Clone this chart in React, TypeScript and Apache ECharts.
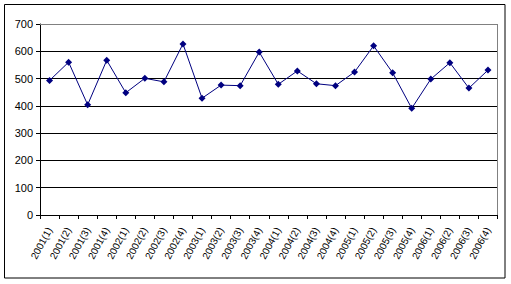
import React, { useEffect, useRef } from "react";
import * as echarts from "echarts";

const categories = [
  "2001(1)", "2001(2)", "2001(3)", "2001(4)",
  "2002(1)", "2002(2)", "2002(3)", "2002(4)",
  "2003(1)", "2003(2)", "2003(3)", "2003(4)",
  "2004(1)", "2004(2)", "2004(3)", "2004(4)",
  "2005(1)", "2005(2)", "2005(3)", "2005(4)",
  "2006(1)", "2006(2)", "2006(3)", "2006(4)",
];
const values = [
  493, 560, 404, 567, 448, 501, 488, 627, 428, 476, 474, 597,
  479, 528, 481, 474, 524, 620, 521, 391, 498, 558, 465, 531,
];
const yMin = 0;
const yMax = 700;
const yInterval = 100;

export default function App() {
  const ref = useRef<HTMLDivElement>(null);
  useEffect(() => {
    const chart = echarts.init(ref.current!, null, { renderer: "svg" });
    chart.setOption({
      animation: false,
      backgroundColor: "#fff",
      graphic: [
        {
          type: "rect",
          shape: { x: 4.5, y: 4.5, width: 500.5, height: 273.5 },
          style: { fill: "none", stroke: "#000", lineWidth: 1 },
          z: 100,
        },
        {
          type: "polyline",
          shape: { points: [[40, 24.5], [497.5, 24.5], [497.5, 215]] },
          style: { fill: "none", stroke: "#808080", lineWidth: 1 },
          z: 10,
        },
      ],
      grid: { left: 40, right: 13.5, top: 24, bottom: 69, containLabel: false },
      xAxis: {
        type: "category",
        data: categories,
        boundaryGap: true,
        axisLine: { lineStyle: { color: "#000", width: 1 } },
        axisTick: { show: true, alignWithLabel: false, length: 4, lineStyle: { color: "#000" } },
        axisLabel: {
          rotate: 62,
          interval: 0,
          fontFamily: "Arial, Liberation Sans",
          fontSize: 10,
          color: "#000",
          margin: 13,
        },
        splitLine: { show: false },
      },
      yAxis: {
        type: "value",
        min: yMin,
        max: yMax,
        interval: yInterval,
        axisLine: { show: true, lineStyle: { color: "#000", width: 1 } },
        axisTick: { show: true, length: 4, lineStyle: { color: "#000" } },
        axisLabel: {
          fontFamily: "Arial, Liberation Sans",
          fontSize: 11,
          color: "#000",
          margin: 7,
          showMaxLabel: true,
        },
        splitLine: {
          show: true,
          lineStyle: { color: "#000", width: 1 },
        },
      },
      series: [
        {
          type: "line",
          data: values,
          symbol: "diamond",
          symbolSize: 7,
          itemStyle: { color: "#000080" },
          lineStyle: { color: "#000080", width: 1 },
          z: 5,
        },
      ],
    });
    return () => chart.dispose();
  }, []);
  return (
    <div
      ref={ref}
      style={{ position: "absolute", left: 0, top: 0, width: 511, height: 284 }}
    />
  );
}
